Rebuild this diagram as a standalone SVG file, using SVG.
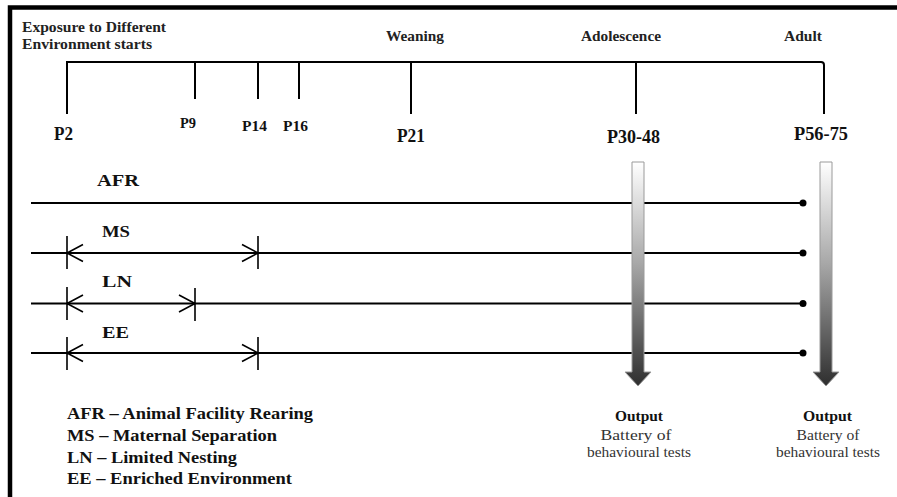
<svg xmlns="http://www.w3.org/2000/svg" width="897" height="497" viewBox="0 0 897 497">
  <style>
    text { font-family: "Liberation Serif", "Times New Roman", serif; fill: #111; }
    .h { font-size: 14.5px; font-weight: bold; fill: #222; }
    .pl { font-size: 18px; font-weight: bold; }
    .ps { font-size: 14px; font-weight: bold; }
    .grp { font-size: 17px; font-weight: bold; }
    .leg { font-size: 17.5px; font-weight: bold; }
    .out { font-size: 14px; font-weight: bold; }
    .sub { font-size: 14px; fill: #333; }
    .axis { stroke: #000; stroke-width: 2; fill: none; }
    .row { stroke: #000; stroke-width: 2; fill: none; }
    .mark { stroke: #000; stroke-width: 1.6; fill: none; }
    .flow { fill: url(#fade); stroke: #9a9a9a; stroke-width: 1; }
  </style>
  <defs>
    <linearGradient id="fade" x1="0" y1="0" x2="0" y2="1">
      <stop offset="0" stop-color="#ffffff"/>
      <stop offset="0.45" stop-color="#a8a8a8"/>
      <stop offset="1" stop-color="#2e2e2e"/>
    </linearGradient>
  </defs>

  <rect width="897" height="497" fill="#fff"/>
  <!-- frame -->
  <path d="M10 497 V7.5 H897" stroke="#000" stroke-width="4.5" fill="none"/>

  <!-- timeline axis -->
  <g id="timeline">
    <path class="axis" d="M67 114 V62 H821 Q824 62 824 65 V114"/>
    <line class="axis" x1="195" y1="62" x2="195" y2="99"/>
    <line class="axis" x1="258" y1="62" x2="258" y2="99"/>
    <line class="axis" x1="299" y1="62" x2="299" y2="99"/>
    <line class="axis" x1="411" y1="62" x2="411" y2="114"/>
    <line class="axis" x1="636" y1="62" x2="636" y2="114"/>
  </g>

  <g id="stage-labels">
    <text class="h" x="22" y="32" textLength="144" lengthAdjust="spacingAndGlyphs">Exposure to Different</text>
    <text class="h" x="22" y="49" textLength="130" lengthAdjust="spacingAndGlyphs">Environment starts</text>
    <text class="h" x="386" y="41" textLength="58" lengthAdjust="spacingAndGlyphs">Weaning</text>
    <text class="h" x="581" y="41" textLength="80" lengthAdjust="spacingAndGlyphs">Adolescence</text>
    <text class="h" x="784" y="41" textLength="38" lengthAdjust="spacingAndGlyphs">Adult</text>
  </g>

  <g id="day-labels">
    <text class="pl" x="54" y="140" textLength="19" lengthAdjust="spacingAndGlyphs">P2</text>
    <text class="ps" x="180" y="128" textLength="16" lengthAdjust="spacingAndGlyphs">P9</text>
    <text class="ps" x="242" y="131" textLength="25" lengthAdjust="spacingAndGlyphs">P14</text>
    <text class="ps" x="283" y="131" textLength="25" lengthAdjust="spacingAndGlyphs">P16</text>
    <text class="pl" x="397" y="141.5" textLength="28" lengthAdjust="spacingAndGlyphs">P21</text>
    <text class="pl" x="607" y="143" textLength="53" lengthAdjust="spacingAndGlyphs">P30-48</text>
    <text class="pl" x="794" y="140" textLength="54" lengthAdjust="spacingAndGlyphs">P56-75</text>
  </g>

  <!-- rearing condition rows -->
  <g id="connectors">
    <line class="row" x1="31" y1="203" x2="803" y2="203"/>
    <line class="row" x1="31" y1="253" x2="803" y2="253"/>
    <line class="row" x1="31" y1="303.5" x2="803" y2="303.5"/>
    <line class="row" x1="31" y1="353" x2="803" y2="353"/>
    <circle cx="803" cy="203" r="3.5"/>
    <circle cx="803" cy="253" r="3.5"/>
    <circle cx="803" cy="303.5" r="3.5"/>
    <circle cx="803" cy="353" r="3.5"/>
  </g>

  <g id="afr">
    <text class="grp" x="97" y="186" textLength="42" lengthAdjust="spacingAndGlyphs">AFR</text>
  </g>
  <g id="ms">
    <text class="grp" x="102" y="237" textLength="28" lengthAdjust="spacingAndGlyphs">MS</text>
    <path class="mark" d="M67 236 V269 M83 244.5 L67 253 L83 261.5 M242 244.5 L258 253 L242 261.5 M258 236 V269"/>
  </g>
  <g id="ln">
    <text class="grp" x="102" y="287" textLength="30" lengthAdjust="spacingAndGlyphs">LN</text>
    <path class="mark" d="M67 287 V320 M83 295 L67 303.5 L83 312 M179 295 L195 303.5 L179 312 M195 288 V321"/>
  </g>
  <g id="ee">
    <text class="grp" x="102" y="338" textLength="27" lengthAdjust="spacingAndGlyphs">EE</text>
    <path class="mark" d="M67 337 V370 M83 344.5 L67 353 L83 361.5 M242 344.5 L258 353 L242 361.5 M258 337 V370"/>
  </g>

  <!-- output arrows -->
  <g id="output-adolescence">
    <path class="flow" d="M632 162 H644 V372 H651 L638 386 L625 372 H632 Z"/>
    <text class="out" x="639" y="421" text-anchor="middle" textLength="48" lengthAdjust="spacingAndGlyphs">Output</text>
    <text class="sub" x="636" y="440" text-anchor="middle" textLength="71" lengthAdjust="spacingAndGlyphs">Battery of</text>
    <text class="sub" x="639" y="457" text-anchor="middle" textLength="104" lengthAdjust="spacingAndGlyphs">behavioural tests</text>
  </g>
  <g id="output-adult">
    <path class="flow" d="M820 162 H832 V372 H839 L826 386 L813 372 H820 Z"/>
    <text class="out" x="827.5" y="421" text-anchor="middle" textLength="49" lengthAdjust="spacingAndGlyphs">Output</text>
    <text class="sub" x="828" y="440" text-anchor="middle" textLength="63" lengthAdjust="spacingAndGlyphs">Battery of</text>
    <text class="sub" x="828" y="457" text-anchor="middle" textLength="104" lengthAdjust="spacingAndGlyphs">behavioural tests</text>
  </g>

  <g id="legend">
    <text class="leg" x="67" y="419" textLength="246" lengthAdjust="spacingAndGlyphs">AFR – Animal Facility Rearing</text>
    <text class="leg" x="67" y="441" textLength="210" lengthAdjust="spacingAndGlyphs">MS – Maternal Separation</text>
    <text class="leg" x="67" y="462.5" textLength="170" lengthAdjust="spacingAndGlyphs">LN – Limited Nesting</text>
    <text class="leg" x="67" y="484" textLength="225" lengthAdjust="spacingAndGlyphs">EE – Enriched Environment</text>
  </g>
</svg>
